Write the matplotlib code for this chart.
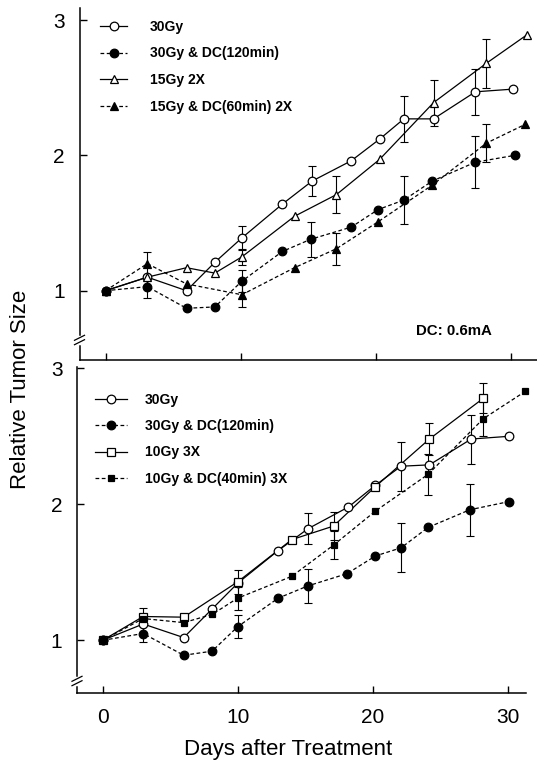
import numpy as np
import matplotlib
matplotlib.use("Agg")
import matplotlib.pyplot as plt
from matplotlib.lines import Line2D

plt.rcParams['font.family'] = ['Liberation Sans', 'DejaVu Sans']

W, H = 537, 765

# ---------------- data: top panel ----------------
top_labels = ["30Gy", "30Gy & DC(120min)", "15Gy 2X", "15Gy & DC(60min) 2X"]
top_days_a = [0, 3.1, 6, 8.1, 10.1, 13.1, 15.3, 18.2, 20.3, 22.1, 24.3, 27.4, 30.2]
top_vals_a = [1.00, 1.10, 1.00, 1.21, 1.39, 1.64, 1.81, 1.96, 2.12, 2.27, 2.27, 2.47, 2.49]
top_err_a = [0, 0, 0, 0, 0.09, 0, 0.11, 0, 0, 0.17, 0, 0.17, 0]

top_days_b = [0, 3.1, 6, 8.1, 10.1, 13.1, 15.2, 18.2, 20.2, 22.1, 24.2, 27.4, 30.3]
top_vals_b = [1.00, 1.03, 0.87, 0.88, 1.07, 1.29, 1.38, 1.47, 1.60, 1.67, 1.81, 1.95, 2.00]
top_err_b = [0, 0.085, 0, 0, 0.08, 0, 0.13, 0, 0, 0.18, 0, 0.19, 0]

top_days_c = [0, 3.1, 6, 8.1, 10.1, 14.0, 17.1, 20.3, 24.3, 28.2, 31.2]
top_vals_c = [1.00, 1.10, 1.17, 1.13, 1.25, 1.55, 1.71, 1.97, 2.39, 2.68, 2.89]
top_err_c = [0, 0, 0, 0, 0.06, 0, 0.135, 0, 0.17, 0.18, 0]

top_days_d = [0, 3.1, 6, 10.1, 14.0, 17.1, 20.2, 24.2, 28.2, 31.1]
top_vals_d = [1.00, 1.20, 1.05, 0.97, 1.17, 1.31, 1.51, 1.78, 2.09, 2.23]
top_err_d = [0, 0.085, 0, 0.09, 0, 0.12, 0, 0, 0.14, 0]

# ---------------- data: bottom panel ----------------
bot_labels = ["30Gy", "30Gy & DC(120min)", "10Gy 3X", "10Gy & DC(40min) 3X"]
bot_days_a = [0, 3, 6, 8.1, 10, 13, 15.2, 18.2, 20.2, 22.1, 24.2, 27.3, 30.1]
bot_vals_a = [1.00, 1.12, 1.02, 1.23, 1.42, 1.66, 1.82, 1.98, 2.14, 2.28, 2.29, 2.48, 2.50]
bot_err_a = [0, 0, 0, 0, 0, 0, 0.115, 0, 0, 0.18, 0, 0.18, 0]

bot_days_b = [0, 3, 6, 8.1, 10, 13, 15.2, 18.1, 20.2, 22.1, 24.1, 27.2, 30.1]
bot_vals_b = [1.00, 1.05, 0.89, 0.92, 1.10, 1.31, 1.40, 1.49, 1.62, 1.68, 1.83, 1.96, 2.02]
bot_err_b = [0, 0.065, 0, 0, 0.085, 0, 0.125, 0, 0, 0.18, 0, 0.19, 0]

bot_days_c = [0, 3, 6, 10, 14, 17.1, 20.2, 24.2, 28.2]
bot_vals_c = [1.00, 1.175, 1.17, 1.43, 1.74, 1.84, 2.13, 2.48, 2.78]
bot_err_c = [0, 0.06, 0, 0.09, 0, 0.105, 0, 0.12, 0.11]

bot_days_d = [0, 3, 6, 8.1, 10, 14, 17.1, 20.2, 24.1, 28.2, 31.3]
bot_vals_d = [1.00, 1.16, 1.13, 1.19, 1.31, 1.47, 1.70, 1.95, 2.22, 2.63, 2.83]
bot_err_d = [0, 0, 0, 0, 0.085, 0, 0.105, 0, 0.15, 0.13, 0]

x_ticks = [0, 10, 20, 30]
y_ticks = [1, 2, 3]
dc_note = "DC: 0.6mA"

# ---------------- figure ----------------
fig = plt.figure(figsize=(W / 100, H / 100), dpi=100)


def px_axes(left, top, right, bottom):
    return fig.add_axes([left / W, 1 - bottom / H, (right - left) / W, (bottom - top) / H])


DASH = (0, (3, 2))
LW = 0.9


def style_axes(ax, show_xlabels):
    for s in ("top", "right"):
        ax.spines[s].set_visible(False)
    for s in ("left", "bottom"):
        ax.spines[s].set_linewidth(1.1)
    ax.set_xticks(x_ticks)
    ax.set_yticks(y_ticks)
    ax.tick_params(direction="in", length=5, width=1.0, labelsize=15)
    ax.tick_params(axis="y", pad=10.5)
    ax.tick_params(axis="x", pad=11)
    if not show_xlabels:
        ax.tick_params(axis="x", labelbottom=False)


def draw_series(ax, days, vals, errs, marker, filled, dashed, ms):
    d = np.asarray(days, float)
    v = np.asarray(vals, float)
    e = np.asarray(errs, float)
    m = e > 0
    if m.any():
        ax.errorbar(d[m], v[m], yerr=e[m], fmt="none", ecolor="black",
                    elinewidth=0.8, capsize=2.6, capthick=0.8, zorder=2, clip_on=False)
    ax.plot(d, v, color="black", lw=LW, linestyle=DASH if dashed else "-",
            zorder=2, clip_on=False)
    ax.plot(d, v, linestyle="none", marker=marker, markersize=ms,
            markerfacecolor="black" if filled else "white",
            markeredgecolor="black", markeredgewidth=0.9, zorder=3, clip_on=False)
    return Line2D([], [], color="black", lw=LW, linestyle=DASH if dashed else "-",
                  marker=marker, markersize=ms,
                  markerfacecolor="black" if filled else "white",
                  markeredgecolor="black", markeredgewidth=0.9)


def axis_break(x_px, y_px):
    # white gap in spine plus two slanted strokes
    fig.add_artist(Line2D([x_px / W, x_px / W], [1 - (y_px - 3) / H, 1 - (y_px + 3) / H],
                          color="white", lw=2.5, zorder=10))
    for dy in (-2.2, 2.2):
        fig.add_artist(Line2D([(x_px - 5) / W, (x_px + 5) / W],
                              [1 - (y_px + dy + 2.5) / H, 1 - (y_px + dy - 2.5) / H],
                              color="black", lw=0.9, zorder=11))


LEG_FS = 10

# ---- top panel ----
ax1 = px_axes(79.5, 8, 537, 360)
ax1.set_xlim((79.5 - 105.5) / 13.5, (537 - 105.5) / 13.5)
ax1.set_ylim(1 - (360 - 290.7) / 135.3, 1 + (290.7 - 8) / 135.3)
style_axes(ax1, False)
h1 = [
    draw_series(ax1, top_days_a, top_vals_a, top_err_a, "o", False, False, 6.2),
    draw_series(ax1, top_days_b, top_vals_b, top_err_b, "o", True, True, 6.2),
    draw_series(ax1, top_days_c, top_vals_c, top_err_c, "^", False, False, 6.2),
    draw_series(ax1, top_days_d, top_vals_d, top_err_d, "^", True, True, 6.2),
]
ax1.legend(h1, top_labels, loc="upper left", bbox_to_anchor=(100 / W, 1 - 20 / H),
           bbox_transform=fig.transFigure, frameon=False, borderpad=0, borderaxespad=0,
           handlelength=1.95, handletextpad=1.66, labelspacing=0.9, numpoints=1,
           prop={"weight": "bold", "size": LEG_FS})
fig.text(416 / W, 1 - 331 / H, dc_note, fontsize=10.8, fontweight="bold",
         ha="left", va="center")

# ---- bottom panel ----
ax2 = px_axes(77, 367, 526, 693)
ax2.set_xlim((77 - 102.7) / 13.5, (526 - 102.7) / 13.5)
ax2.set_ylim(1 - (693 - 640.3) / 136.0, 1 + (640.3 - 367) / 136.0)
style_axes(ax2, True)
h2 = [
    draw_series(ax2, bot_days_a, bot_vals_a, bot_err_a, "o", False, False, 6.2),
    draw_series(ax2, bot_days_b, bot_vals_b, bot_err_b, "o", True, True, 6.2),
    draw_series(ax2, bot_days_c, bot_vals_c, bot_err_c, "s", False, False, 5.2),
    draw_series(ax2, bot_days_d, bot_vals_d, bot_err_d, "s", True, True, 4.6),
]
ax2.legend(h2, bot_labels, loc="upper left", bbox_to_anchor=(95 / W, 1 - 393 / H),
           bbox_transform=fig.transFigure, frameon=False, borderpad=0, borderaxespad=0,
           handlelength=2.28, handletextpad=1.33, labelspacing=0.88, numpoints=1,
           prop={"weight": "bold", "size": LEG_FS})

fig.text(288 / W, 1 - 750 / H, "Days after Treatment", fontsize=16,
         ha="center", va="center")
fig.text(21 / W, 1 - 389 / H, "Relative Tumor Size", fontsize=16, rotation=90,
         ha="center", va="center")

axis_break(79.5, 340)
axis_break(77, 681)

fig.savefig("out.png", dpi=100)
